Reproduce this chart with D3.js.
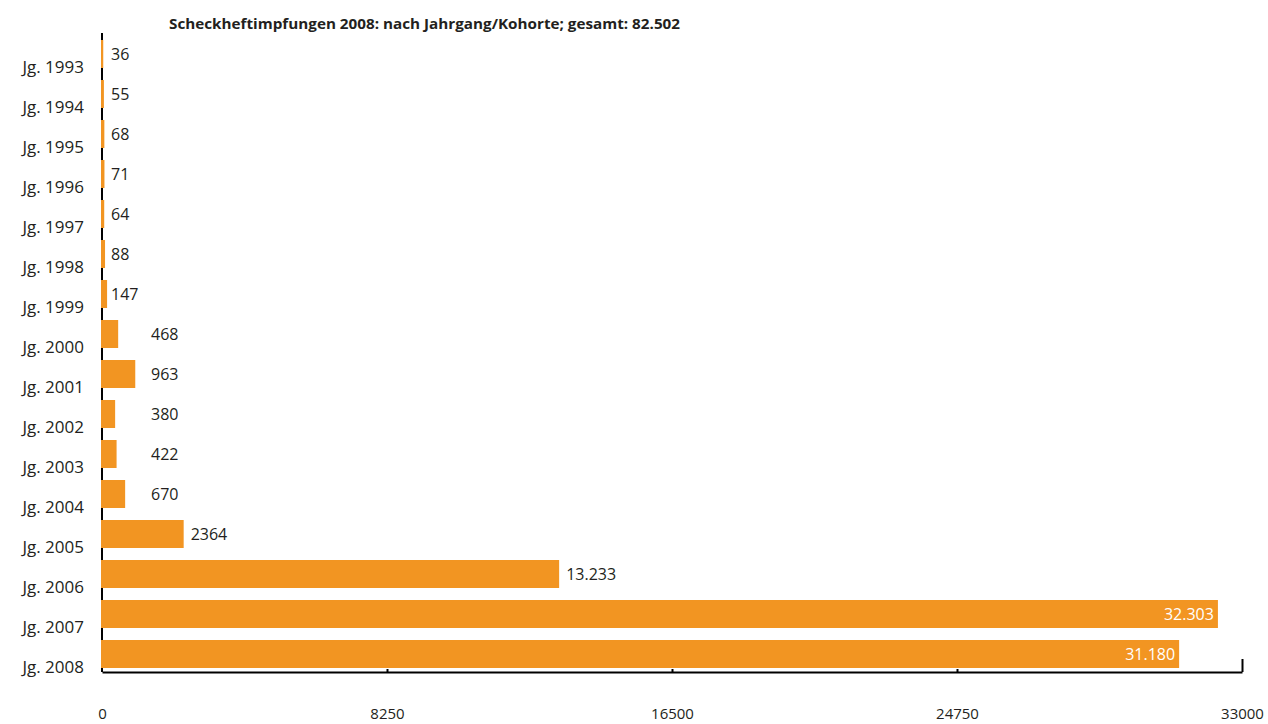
<!DOCTYPE html>
<html>
<head>
<meta charset="utf-8">
<script src="https://cdn.jsdelivr.net/npm/d3@7"></script>
<style>
  html, body { margin: 0; padding: 0; background: #fff; }
  svg { display: block; }
  text { font-family: "Open Sans", "Noto Sans", sans-serif; fill: #231f20; }
</style>
</head>
<body>
<svg id="chart" width="1268" height="724"></svg>
<script>
// Scheckheftimpfungen 2008 nach Jahrgang
const cohorts = ["Jg. 1993", "Jg. 1994", "Jg. 1995", "Jg. 1996", "Jg. 1997", "Jg. 1998",
  "Jg. 1999", "Jg. 2000", "Jg. 2001", "Jg. 2002", "Jg. 2003", "Jg. 2004",
  "Jg. 2005", "Jg. 2006", "Jg. 2007", "Jg. 2008"];
const vaccinations = [36, 55, 68, 71, 64, 88, 147, 468, 963, 380, 422, 670, 2364, 13233, 32303, 31180];
const xTicks = [0, 8250, 16500, 24750, 33000];
const titleText = "Scheckheftimpfungen 2008: nach Jahrgang/Kohorte; gesamt: 82.502";

const plotLeft = 102, plotRight = 1242, plotTop = 34, plotBottom = 674, axisY = 672;
const orange = "#f29522";

const svg = d3.select("#chart");

const x = d3.scaleLinear().domain([0, 33000]).range([plotLeft, plotRight]);
const y = d3.scaleBand().domain(cohorts).range([plotTop, plotBottom])
  .paddingInner(0.3).paddingOuter(0.15);

// German number format with dot grouping for large values
const de = d3.formatLocale({ decimal: ",", thousands: ".", grouping: [3], currency: ["", " €"] });
const fmtLabel = v => v >= 10000 ? de.format(",")(v) : String(v);

// y axis (category labels sit below the band centre)
const yAxis = svg.append("g")
  .attr("transform", `translate(${plotLeft},0)`)
  .call(d3.axisLeft(y).tickSize(0).tickPadding(18));
yAxis.select(".domain").attr("stroke", "#000").attr("stroke-width", 2)
  .attr("d", `M0,${plotTop - 1}V${axisY}`);
yAxis.selectAll("text")
  .attr("dy", y.bandwidth() / 2 + 5)
  .style("font-family", "'Open Sans', sans-serif")
  .style("font-size", "17px")
  .attr("fill", "#231f20");

// bars
svg.append("g").selectAll("rect")
  .data(vaccinations)
  .join("rect")
  .attr("x", x(0) - 1)
  .attr("y", (d, i) => y(cohorts[i]))
  .attr("width", d => Math.max(1.5, x(d) - x(0) + 1))
  .attr("height", y.bandwidth())
  .attr("fill", orange);

// value labels
const labels = svg.append("g").selectAll("text")
  .data(vaccinations)
  .join("text")
  .attr("y", (d, i) => y(cohorts[i]) + y.bandwidth() / 2)
  .attr("dy", "0.36em")
  .style("font-size", "16px")
  .text(d => fmtLabel(d));
labels.each(function (d) {
  const t = d3.select(this);
  if (d > 30000) {
    t.attr("x", x(d) - 4).attr("text-anchor", "end").style("fill", "#fff");
  } else if (d < 200) {
    t.attr("x", x(0) + 9);
  } else if (d < 1000) {
    t.attr("x", x(1420));
  } else {
    t.attr("x", x(d) + 7);
  }
});

// x axis with inward ticks
const xAxis = svg.append("g")
  .attr("transform", `translate(0,${axisY})`)
  .call(d3.axisBottom(x).tickValues(xTicks).tickFormat(d3.format("d"))
    .tickSizeInner(-3).tickSizeOuter(0).tickPadding(36));
xAxis.select(".domain").attr("stroke", "#000").attr("stroke-width", 2);
xAxis.selectAll(".tick line").attr("stroke", "#000").attr("stroke-width", 2);
xAxis.selectAll(".tick").filter(d => d === 0).select("line").remove();
xAxis.selectAll(".tick").filter(d => d === 33000).select("line").attr("y2", -13);
xAxis.selectAll("text")
  .style("font-family", "'Open Sans', sans-serif")
  .style("font-size", "15px")
  .attr("fill", "#231f20");

// title, slightly widened
svg.append("text")
  .attr("transform", "translate(169,28.5) scale(1.09,1)")
  .style("font-size", "14px")
  .style("font-weight", "bold")
  .text(titleText);
</script>
</body>
</html>
